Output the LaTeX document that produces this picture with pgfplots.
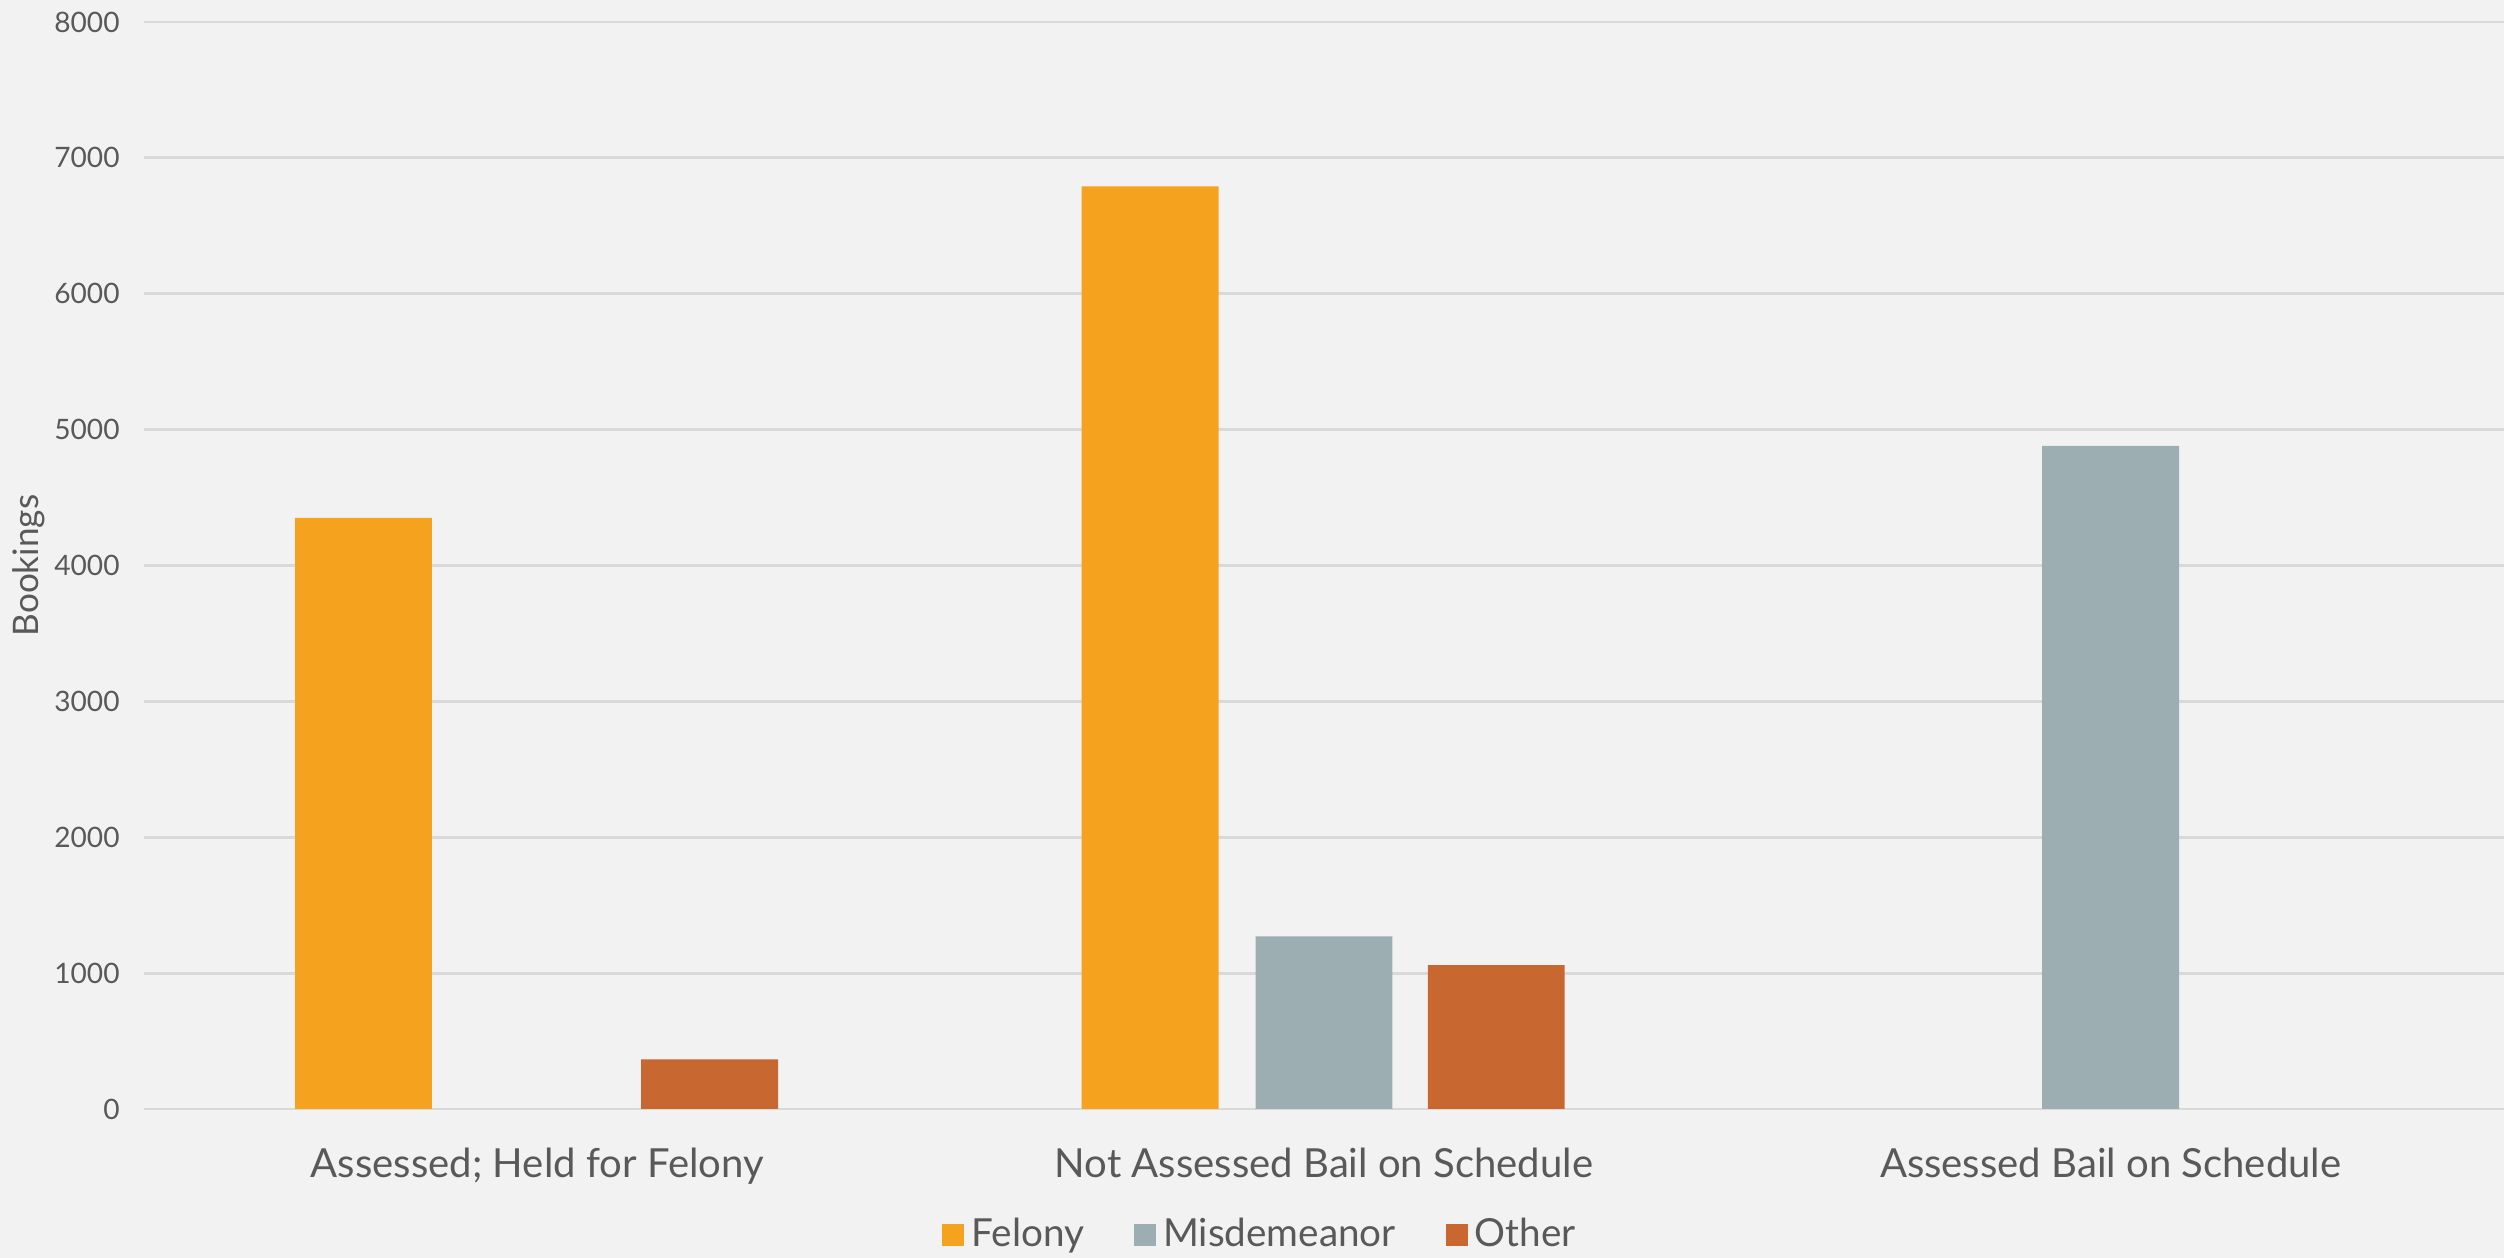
\documentclass[border=0pt]{standalone}
\usepackage{pgfplots}
\pgfplotsset{compat=1.18}
\usepackage{fontspec}
\setmainfont{Lato}
\definecolor{felony}{HTML}{F5A31F}
\definecolor{misd}{HTML}{9DAEB3}
\definecolor{other}{HTML}{C96730}
\definecolor{bg}{HTML}{F2F2F2}
\definecolor{gridc}{HTML}{D9D9D9}
\definecolor{txt}{HTML}{595959}
\begin{document}
\begin{tikzpicture}
\fill[bg] (0,0) rectangle (25.04cm,12.58cm);
\useasboundingbox (0,0) rectangle (25.04cm,12.58cm);
\begin{axis}[
  at={(1.44cm,1.49cm)}, anchor=south west,
  scale only axis, width=23.6cm, height=10.87cm,
  xmin=-0.5, xmax=2.5, ymin=0, ymax=8000,
  ytick={0,1000,...,8000},
  xtick={0,1,2},
  xticklabels={Assessed; Held for Felony, Not Assessed Bail on Schedule, Assessed Bail on Schedule},
  axis line style={draw=none}, tick style={draw=none},
  ymajorgrids, grid style={gridc, line width=0.8pt},
  /pgf/number format/assume math mode=true,
  /pgf/number format/1000 sep={},
  yticklabel style={font=\fontsize{8}{9}\selectfont, text=txt, xshift=-0.12cm},
  xticklabel style={font=\fontsize{11.4}{13}\selectfont, text=txt, yshift=-0.27cm},
  ylabel={Bookings},
  every axis y label/.style={at={(rel axis cs:-0.0487,0.5)}, rotate=90, anchor=center, font=\fontsize{10}{11}\selectfont, text=txt},
  legend style={draw=none, fill=none, font=\fontsize{11}{13}\selectfont, text=txt,
    at={(0.474,-0.116)}, anchor=center, legend columns=-1,
    /tikz/every even column/.append style={column sep=0.43cm}},
  legend image code/.code={\fill[#1] (0cm,-0.11cm) rectangle (0.22cm,0.11cm);},
]
  % Felony
  \addplot[ybar, bar width=0.174, bar shift=-0.221, fill=felony, draw=none]
    coordinates {(0,4350) (1,6790)};
  \addlegendentry{Felony}
  % Misdemeanor
  \addplot[ybar, bar width=0.174, bar shift=0, fill=misd, draw=none]
    coordinates {(1,1270) (2,4880)};
  \addlegendentry{Misdemeanor}
  % Other
  \addplot[ybar, bar width=0.174, bar shift=0.219, fill=other, draw=none]
    coordinates {(0,365) (1,1058)};
  \addlegendentry{Other}
\end{axis}
\end{tikzpicture}
\end{document}
